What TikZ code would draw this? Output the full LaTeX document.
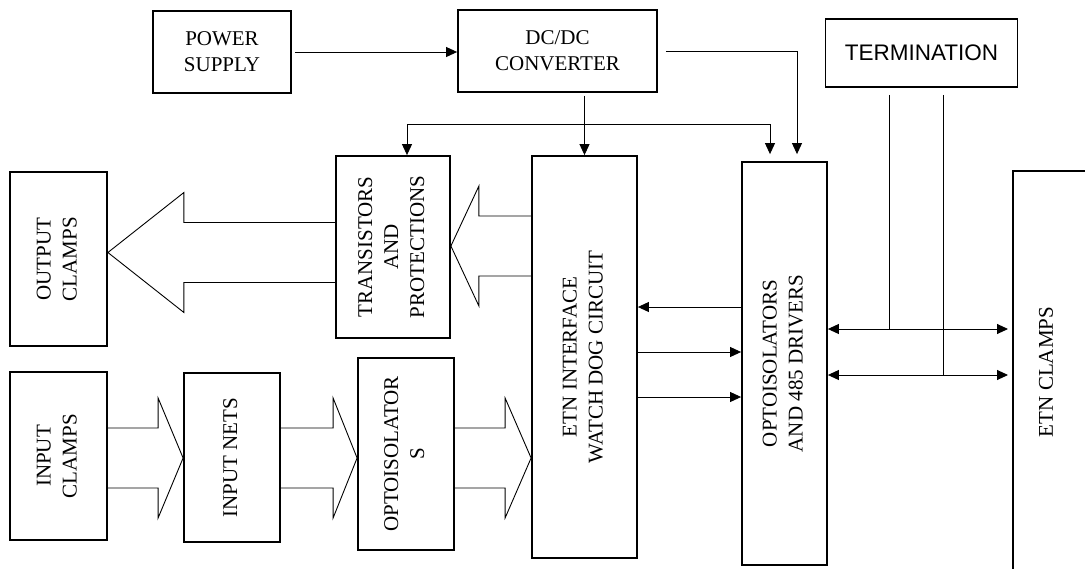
\documentclass[tikz,border=0pt]{standalone}
\usepackage{fontspec}
\setmainfont{Liberation Serif}
\newfontfamily\termfont{Liberation Sans}
\usepackage{graphicx}
\usetikzlibrary{calc, arrows.meta}
\tikzset{>={Triangle[length=11pt,width=10pt]}}
\tikzset{
	blk/.style={draw, line width=1.8pt, inner sep=0pt, align=center, font=\fontsize{21}{26}\selectfont},
	wire/.style={line width=0.9pt},
	fat/.style={line width=0.9pt, line join=miter}
}
% rotated text, read from bottom to top
\newcommand{\vtext}[1]{\rotatebox{90}{\begin{tabular}{@{}c@{}}#1\end{tabular}}}
% hollow block arrow: tail, tip, signed head length
\newcommand{\fatarrow}[3]{%
	\draw[fat] ($(#1)+(0,-30)$) -- ($(#2)+(#3,-30)$) -- ($(#2)+(#3,-60)$) -- (#2)
		-- ($(#2)+(#3,60)$) -- ($(#2)+(#3,30)$) -- ($(#1)+(0,30)$);}

\begin{document}
\begin{tikzpicture}[x=1pt, y=-1pt]
	\useasboundingbox (0,0) rectangle (1085,568);
	\clip (0,0) rectangle (1085,568);
	% top row
	\node[blk, minimum width=138, minimum height=82] (ps) at (222,52) {POWER\\SUPPLY};
	\node[blk, minimum width=199, minimum height=82] (dc) at (557.5,51) {DC/DC\\CONVERTER};
	\node[blk, minimum width=192, minimum height=68, font=\termfont\fontsize{22.5}{26}\selectfont] (term) at (921.5,53) {TERMINATION};
	% middle row
	\node[blk, minimum width=97, minimum height=174] (outcl) at (58.5,259) {\vtext{OUTPUT\\CLAMPS}};
	\node[blk, minimum width=114, minimum height=182] (trans) at (393,247) {\vtext{TRANSISTORS\\AND\\PROTECTIONS}};
	\node[blk, minimum width=105, minimum height=402] (etn) at (584.5,357) {\vtext{ETN INTERFACE\\WATCH DOG CIRCUIT}};
	\node[blk, minimum width=85, minimum height=403] (opto) at (784.5,363.5) {\vtext{OPTOISOLATORS\\AND 485 DRIVERS}};
	\node[blk, minimum width=130, minimum height=430, anchor=north west] (etncl) at (1012,170) {};
	\node[font=\fontsize{21}{26}\selectfont, rotate=90] (etnclt) at (1046,372) {ETN CLAMPS};
	% bottom row
	\node[blk, minimum width=97, minimum height=168] (incl) at (58.5,456) {\vtext{INPUT\\CLAMPS}};
	\node[blk, minimum width=96, minimum height=169] (innets) at (232,457.5) {\vtext{INPUT NETS}};
	\node[blk, minimum width=96, minimum height=192] (optoiso) at (406,454) {\vtext{OPTOISOLATOR\\S}};
	% supply lines
	\draw[wire, ->, shorten <=3pt] (ps.east) -- (ps.east -| dc.west);
	\draw[wire, ->, shorten <=8pt, shorten >=7pt] (dc.east) -| ([xshift=12.5pt]opto.north);
	\draw[wire, ->, shorten <=3pt] (dc.south -| etn.north) -- (etn.north);
	\coordinate (split) at ($(etn.north)+(0,-31)$);
	\draw[wire, <->, shorten >=7pt] ([xshift=14pt]trans.north) |- (split) -| ([xshift=-14.5pt]opto.north);
	% interface - drivers
	\coordinate (eA) at ([yshift=50pt]etn.east);
	\coordinate (eB) at ([yshift=5pt]etn.east);
	\coordinate (eC) at ([yshift=-40pt]etn.east);
	\draw[wire, <-] (eA) -- (eA -| opto.west);
	\draw[wire, ->] (eB) -- (eB -| opto.west);
	\draw[wire, ->] (eC) -- (eC -| opto.west);
	% bus and termination
	\coordinate (tA) at (889,329);
	\coordinate (tB) at (943,375);
	\draw[wire, <->, shorten >=4pt] (opto.east |- tA) -- (etncl.west |- tA);
	\draw[wire, <->, shorten >=4pt] (opto.east |- tB) -- (etncl.west |- tB);
	\draw[wire, shorten <=7pt] (term.south -| tA) -- (tA);
	\draw[wire, shorten <=7pt] (term.south -| tB) -- (tB);
	% block arrows
	\coordinate (outrow) at (0,252.5);
	\coordinate (trrow) at (0,246);
	\coordinate (inrow) at (0,458);
	\fatarrow{trans.west |- outrow}{outcl.east |- outrow}{76}
	\fatarrow{etn.west |- trrow}{trans.east |- trrow}{28}
	\fatarrow{incl.east |- inrow}{innets.west |- inrow}{-25}
	\fatarrow{innets.east |- inrow}{optoiso.west |- inrow}{-24}
	\fatarrow{optoiso.east |- inrow}{etn.west |- inrow}{-26}
\end{tikzpicture}
\end{document}
